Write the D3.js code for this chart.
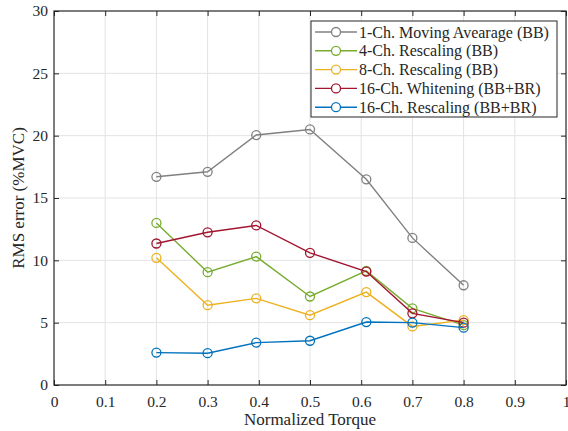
<!DOCTYPE html>
<html>
<head>
<meta charset="utf-8">
<script src="https://cdn.jsdelivr.net/npm/d3@7"></script>
<style>
  body { margin: 0; background: #fff; }
  svg { font-family: "Liberation Serif", "Times New Roman", "DejaVu Serif", serif; }
</style>
</head>
<body>
<svg id="chart"></svg>
<script>
const torque = [0.2, 0.3, 0.395, 0.5, 0.61, 0.7, 0.8]

const seriesNames = [
  '1-Ch. Moving Avearage (BB)',
  '4-Ch. Rescaling (BB)',
  '8-Ch. Rescaling (BB)',
  '16-Ch. Whitening (BB+BR)',
  '16-Ch. Rescaling (BB+BR)'
]
const seriesColors = ['#808080', '#77AC30', '#EDB120', '#A2142F', '#0072BD']

const movingAvg1 = [16.7, 17.1, 20.05, 20.5, 16.5, 11.8, 8.0]
const rescaling4 = [13.0, 9.05, 10.3, 7.1, 9.15, 6.15, 4.8]
const rescaling8 = [10.2, 6.4, 6.95, 5.6, 7.45, 4.7, 5.2]
const whitening16 = [11.35, 12.25, 12.8, 10.6, 9.1, 5.75, 5.0]
const rescaling16 = [2.6, 2.55, 3.4, 3.55, 5.05, 5.0, 4.6]

const xTicks = [0, 0.1, 0.2, 0.3, 0.4, 0.5, 0.6, 0.7, 0.8, 0.9, 1]
const yTicks = [0, 5, 10, 15, 20, 25, 30]

const allSeries = [movingAvg1, rescaling4, rescaling8, whitening16, rescaling16]

const W = 568, H = 431
const margin = { left: 54, right: 2, top: 11, bottom: 46 }
const iw = W - margin.left - margin.right
const ih = H - margin.top - margin.bottom
const FONT = '"Liberation Serif", "Times New Roman", "DejaVu Serif", serif'

const svg = d3.select('#chart').attr('width', W).attr('height', H)

const xScale = d3.scaleLinear().domain([0, 1]).range([0, iw])
const yScale = d3.scaleLinear().domain([0, 30]).range([ih, 0])

const g = svg.append('g').attr('transform', `translate(${margin.left}, ${margin.top})`)

/* GRID */
g.append('g').selectAll('line')
  .data(xTicks.slice(1, -1))
  .enter().append('line')
  .attr('x1', d => xScale(d)).attr('x2', d => xScale(d))
  .attr('y1', 0).attr('y2', ih)
  .attr('stroke', '#e3e3e3').attr('stroke-width', 1)
g.append('g').selectAll('line')
  .data(yTicks.slice(1, -1))
  .enter().append('line')
  .attr('y1', d => yScale(d)).attr('y2', d => yScale(d))
  .attr('x1', 0).attr('x2', iw)
  .attr('stroke', '#e3e3e3').attr('stroke-width', 1)

/* AXES (ticks inward, box on) */
const styleAxis = sel => {
  sel.attr('font-family', FONT)
  sel.select('.domain').remove()
  sel.selectAll('line').attr('stroke', '#262626')
  sel.selectAll('text').attr('fill', '#262626').style('font-size', '15.5px')
}

g.append('g')
  .attr('transform', `translate(0, ${ih})`)
  .call(d3.axisBottom(xScale).tickValues(xTicks).tickFormat(d3.format('')).tickSizeInner(-5).tickSizeOuter(0).tickPadding(11))
  .call(styleAxis)

g.append('g')
  .call(d3.axisTop(xScale).tickValues(xTicks).tickFormat('').tickSizeInner(-5).tickSizeOuter(0))
  .call(styleAxis)

g.append('g')
  .call(d3.axisLeft(yScale).tickValues(yTicks).tickSizeInner(-5).tickSizeOuter(0).tickPadding(6))
  .call(styleAxis)

g.append('g')
  .attr('transform', `translate(${iw}, 0)`)
  .call(d3.axisRight(yScale).tickValues(yTicks).tickFormat('').tickSizeInner(-5).tickSizeOuter(0))
  .call(styleAxis)

g.append('rect')
  .attr('x', 0).attr('y', 0).attr('width', iw).attr('height', ih)
  .attr('fill', 'none').attr('stroke', '#262626').attr('stroke-width', 1.2)

/* LINES */
const line = d3.line()
  .x((d, i) => xScale(torque[i]))
  .y(d => yScale(d))

allSeries.forEach((vals, k) => {
  g.append('path')
    .datum(vals)
    .attr('d', line)
    .attr('fill', 'none')
    .attr('stroke', seriesColors[k])
    .attr('stroke-width', 1.4)
  g.selectAll(`circle.s${k}`)
    .data(vals)
    .enter().append('circle')
    .attr('class', `s${k}`)
    .attr('cx', (d, i) => xScale(torque[i]))
    .attr('cy', d => yScale(d))
    .attr('r', 4.5)
    .attr('fill', 'none')
    .attr('stroke', seriesColors[k])
    .attr('stroke-width', 1.3)
})

/* AXIS LABELS */
svg.append('text')
  .attr('x', margin.left + iw / 2).attr('y', 425)
  .attr('text-anchor', 'middle')
  .style('font-size', '17px').attr('fill', '#262626')
  .text('Normalized Torque')

svg.append('text')
  .attr('transform', `translate(23.5, ${margin.top + ih / 2}) rotate(-90)`)
  .attr('text-anchor', 'middle')
  .style('font-size', '17px').attr('fill', '#262626')
  .text('RMS error (%MVC)')

/* LEGEND */
const lg = svg.append('g').attr('transform', 'translate(311, 21)')
lg.append('rect')
  .attr('width', 246).attr('height', 96)
  .attr('fill', '#fff').attr('stroke', '#262626').attr('stroke-width', 1)

seriesNames.forEach((name, k) => {
  const yy = 11 + k * 18.8
  lg.append('line')
    .attr('x1', 4).attr('x2', 46).attr('y1', yy).attr('y2', yy)
    .attr('stroke', seriesColors[k]).attr('stroke-width', 1.4)
  lg.append('circle')
    .attr('cx', 25).attr('cy', yy).attr('r', 4.5)
    .attr('fill', '#fff').attr('stroke', seriesColors[k]).attr('stroke-width', 1.3)
  lg.append('text')
    .attr('x', 48).attr('y', yy).attr('dy', '0.35em')
    .style('font-size', '16px').attr('fill', '#262626')
    .text(name)
})
</script>
</body>
</html>
